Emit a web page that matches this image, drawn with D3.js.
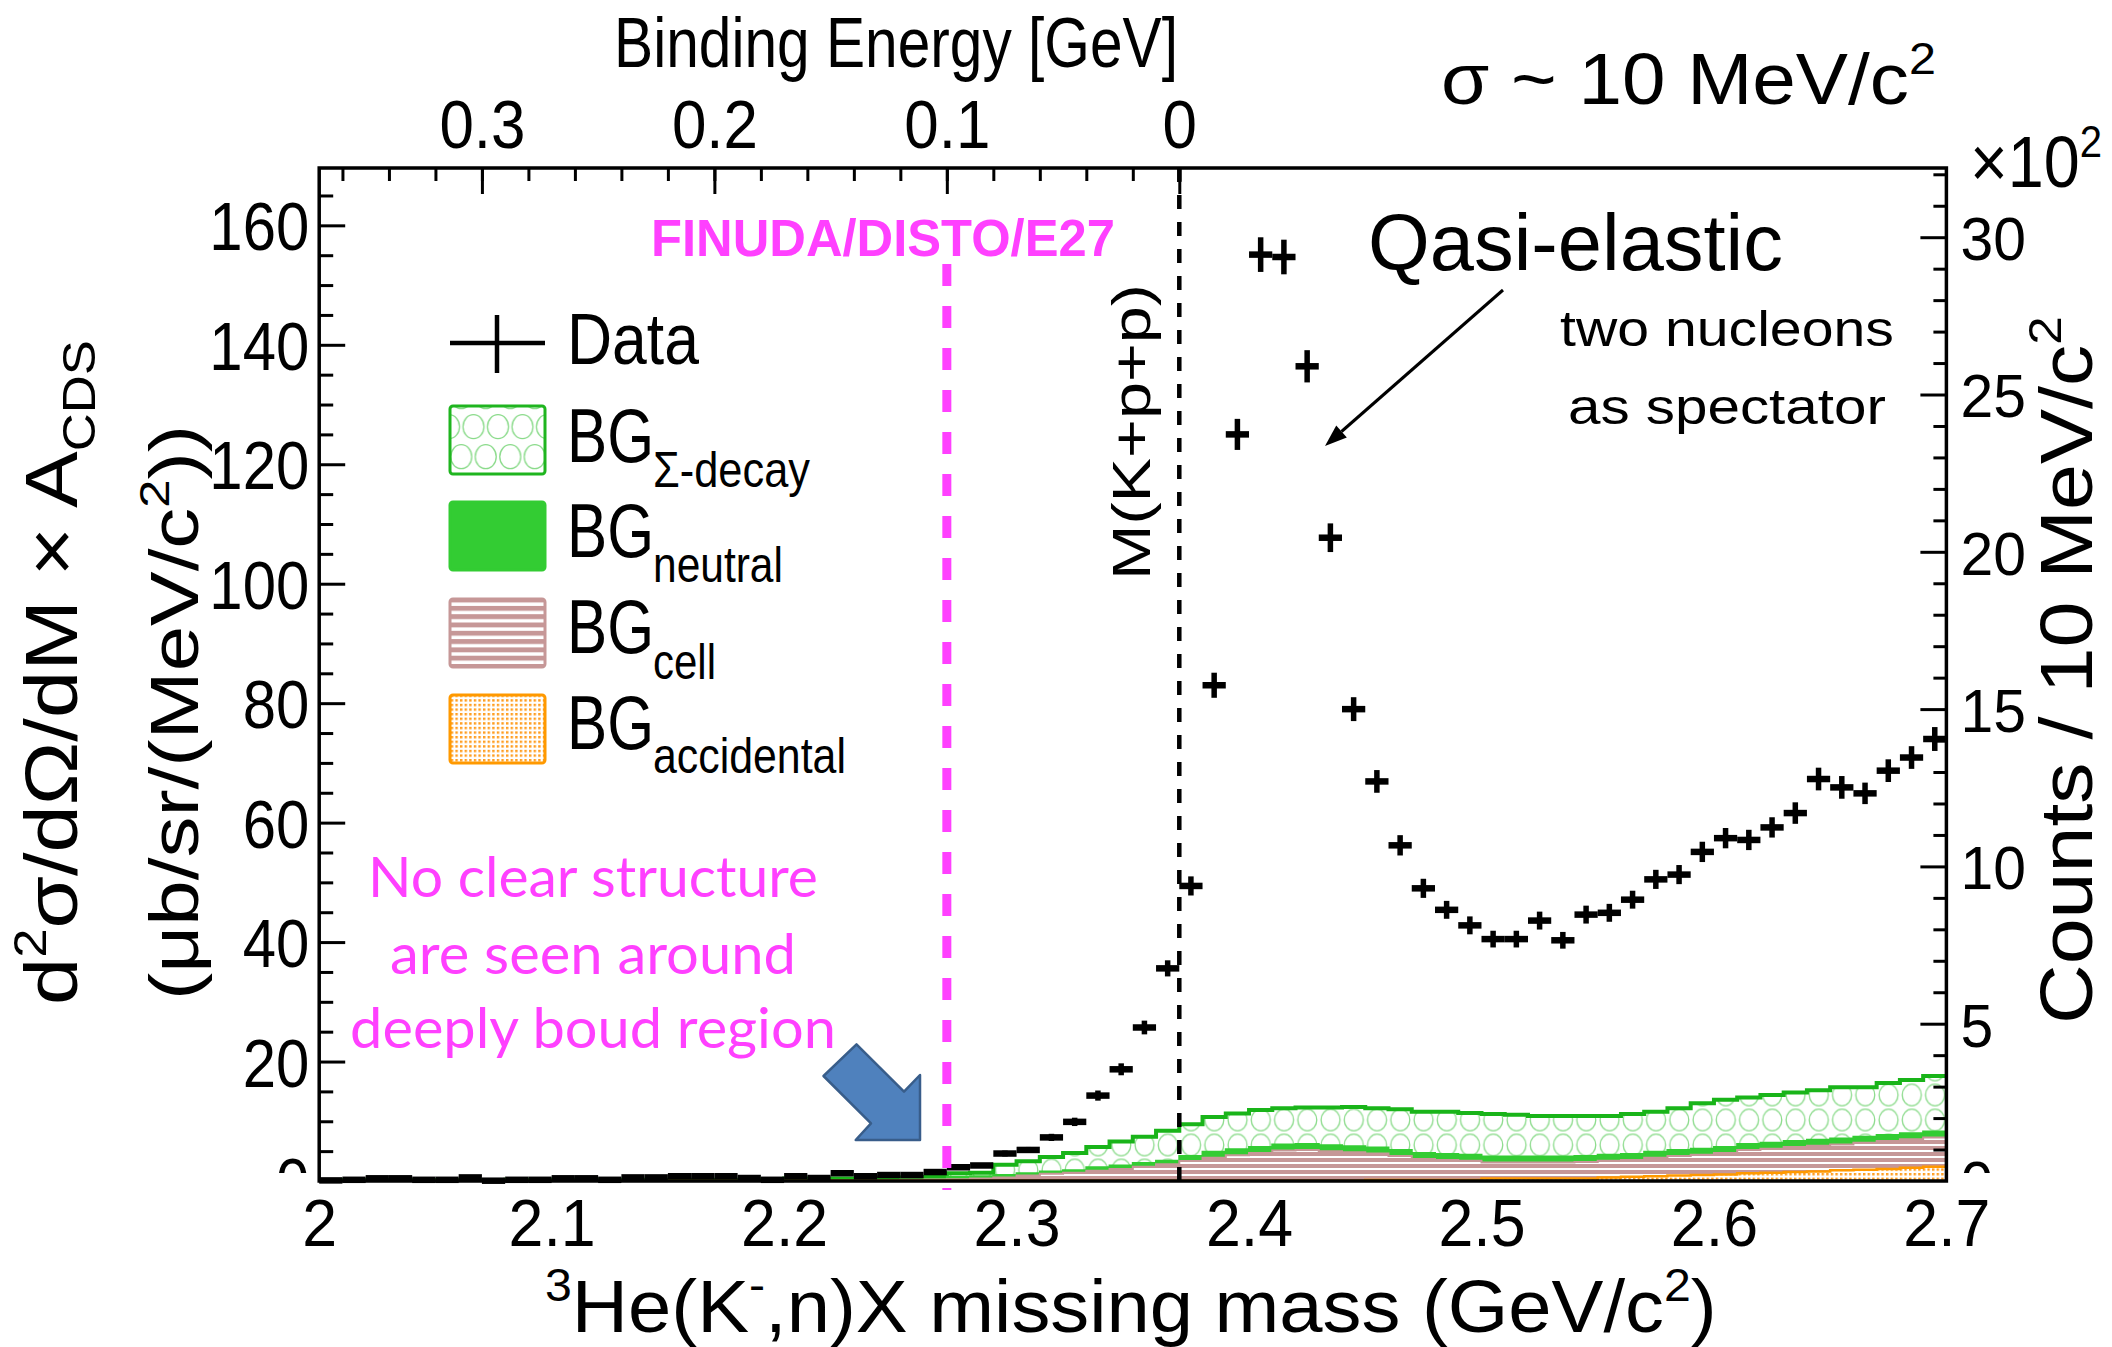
<!DOCTYPE html>
<html>
<head>
<meta charset="utf-8">
<script src="https://cdn.jsdelivr.net/npm/d3@7"></script>
<style>
  html, body { margin: 0; padding: 0; background: #fff; }
  svg { display: block; }
</style>
</head>
<body>
<svg id="chart" width="2112" height="1347"></svg>
<script>
// ---------------- data: 3He(K-,n)X missing-mass spectrum, 10 MeV/c^2 bins ----------------
const binCenters = [
  2.005, 2.015, 2.025, 2.035, 2.045, 2.055, 2.065, 2.075, 2.085, 2.095,
  2.105, 2.115, 2.125, 2.135, 2.145, 2.155, 2.165, 2.175, 2.185, 2.195,
  2.205, 2.215, 2.225, 2.235, 2.245, 2.255, 2.265, 2.275, 2.285, 2.295,
  2.305, 2.315, 2.325, 2.335, 2.345, 2.355, 2.365, 2.375, 2.385, 2.395,
  2.405, 2.415, 2.425, 2.435, 2.445, 2.455, 2.465, 2.475, 2.485, 2.495,
  2.505, 2.515, 2.525, 2.535, 2.545, 2.555, 2.565, 2.575, 2.585, 2.595,
  2.605, 2.615, 2.625, 2.635, 2.645, 2.655, 2.665, 2.675, 2.685, 2.695
];
const binWidth = 0.01;

// d2sigma/dOmega/dM x A_CDS  [ub/sr/(MeV/c^2)]
const dataValues = [
  0.1, 0.2, 0.45, 0.45, 0.2, 0.2, 0.6, 0.05, 0.2, 0.2,
  0.45, 0.45, 0.2, 0.6, 0.6, 0.8, 0.8, 0.8, 0.5, 0.2,
  0.8, 0.5, 1.3, 0.8, 1.0, 1.0, 1.5, 2.3, 2.6, 4.6,
  5.2, 7.3, 9.9, 14.3, 18.7, 25.7, 35.6, 49.4, 83.0, 125.0,
  155.1, 154.7, 136.4, 107.7, 79.0, 66.9, 56.2, 49.0, 45.4, 42.8,
  40.5, 40.5, 43.6, 40.3, 44.6, 44.9, 47.1, 50.5, 51.3, 55.1,
  57.4, 57.1, 59.2, 61.6, 67.3, 65.9, 64.9, 68.7, 70.9, 74.0
];
const dataErrors = [
  0.2, 0.2, 0.2, 0.2, 0.2, 0.2, 0.2, 0.2, 0.2, 0.2,
  0.2, 0.2, 0.2, 0.2, 0.2, 0.2, 0.2, 0.2, 0.2, 0.2,
  0.2, 0.2, 0.3, 0.25, 0.3, 0.3, 0.3, 0.35, 0.4, 0.5,
  0.5, 0.6, 0.7, 0.85, 1.0, 1.15, 1.35, 1.6, 2.1, 2.6,
  2.9, 2.9, 2.7, 2.4, 2.0, 1.9, 1.7, 1.6, 1.5, 1.5,
  1.4, 1.4, 1.5, 1.4, 1.5, 1.5, 1.5, 1.6, 1.6, 1.7,
  1.7, 1.7, 1.7, 1.8, 1.9, 1.9, 1.8, 1.9, 1.9, 2.0
];

// background components (stacked bottom -> top: accidental, cell, neutral, Sigma-decay)
const bgAccidental = [
  0.05, 0.05, 0.05, 0.05, 0.05, 0.05, 0.05, 0.05, 0.05, 0.05,
  0.05, 0.05, 0.05, 0.05, 0.05, 0.05, 0.05, 0.05, 0.05, 0.05,
  0.05, 0.05, 0.05, 0.05, 0.05, 0.05, 0.05, 0.05, 0.05, 0.05,
  0.05, 0.05, 0.05, 0.05, 0.05, 0.05, 0.05, 0.05, 0.05, 0.05,
  0.05, 0.05, 0.05, 0.05, 0.05, 0.15, 0.15, 0.15, 0.15, 0.15,
  0.4, 0.4, 0.4, 0.4, 0.4, 0.6, 0.7, 0.8, 0.9, 1.0,
  1.1, 1.3, 1.4, 1.5, 1.6, 1.8, 1.9, 2.0, 2.2, 2.4
];
const bgCell = [
  0.01, 0.01, 0.01, 0.01, 0.01, 0.01, 0.01, 0.01, 0.01, 0.01,
  0.01, 0.01, 0.01, 0.01, 0.01, 0.01, 0.01, 0.01, 0.01, 0.01,
  0.01, 0.05, 0.05, 0.05, 0.05, 0.15, 0.2, 0.25, 0.35, 0.55,
  0.85, 1.15, 1.35, 1.65, 1.95, 2.35, 2.75, 3.3, 3.85, 4.25,
  4.65, 5.05, 5.15, 4.95, 4.75, 4.45, 4.05, 3.55, 3.35, 3.25,
  2.7, 2.7, 2.7, 2.7, 2.8, 2.8, 2.8, 3.1, 3.3, 3.4,
  3.6, 3.9, 4.0, 4.2, 4.3, 4.3, 4.5, 4.7, 4.8, 4.9
];
const bgNeutral = [
  0.04, 0.04, 0.04, 0.04, 0.04, 0.04, 0.04, 0.04, 0.04, 0.04,
  0.04, 0.04, 0.04, 0.04, 0.04, 0.04, 0.04, 0.04, 0.04, 0.04,
  0.04, 0.1, 0.1, 0.1, 0.1, 0.1, 0.1, 0.4, 0.4, 0.4,
  0.4, 0.4, 0.4, 0.6, 0.6, 0.6, 0.6, 0.85, 1.0, 1.0,
  1.0, 1.0, 1.0, 1.0, 1.0, 1.0, 1.0, 1.0, 1.0, 1.0,
  1.0, 1.0, 1.0, 1.0, 1.0, 1.0, 1.0, 1.0, 1.0, 1.0,
  1.0, 1.0, 1.0, 1.0, 1.0, 1.0, 1.0, 1.0, 1.0, 1.0
];
const bgSigmaDecay = [
  0.05, 0.05, 0.05, 0.05, 0.05, 0.05, 0.05, 0.05, 0.1, 0.1,
  0.1, 0.1, 0.1, 0.1, 0.1, 0.1, 0.1, 0.1, 0.1, 0.2,
  0.3, 0.2, 0.2, 0.2, 0.4, 0.3, 0.3, 0.6, 0.6, 1.7,
  2.0, 2.4, 2.9, 3.4, 4.0, 4.4, 5.0, 5.3, 5.8, 6.0,
  6.2, 6.1, 6.1, 6.3, 6.6, 6.6, 6.8, 6.9, 7.1, 7.0,
  7.1, 7.0, 6.8, 6.8, 6.7, 6.5, 6.7, 6.7, 7.0, 7.6,
  7.9, 7.8, 8.0, 8.1, 8.3, 8.6, 8.3, 8.7, 8.9, 9.3
];

// axis tick labels
const massTicks = [2.0, 2.1, 2.2, 2.3, 2.4, 2.5, 2.6, 2.7];
const crossSectionTicks = [0, 20, 40, 60, 80, 100, 120, 140, 160];
const countTicks = [0, 5, 10, 15, 20, 25, 30];
const bindingTicks = [0.3, 0.2, 0.1, 0];

const thresholdMass = 2.37;   // M(K+p+p)
const finudaMass = 2.27;      // FINUDA/DISTO/E27 binding region

// ---------------- layout ----------------
const FONT = "'Liberation Sans', Arial, Helvetica, sans-serif";
const HAND = "Lato, 'Open Sans', sans-serif";
const MAGENTA = "#ff40ff";
const plot = { left: 319.2, right: 1946.4, top: 168, bottom: 1181 };

const svg = d3.select("#chart");
svg.append("rect").attr("width", 2112).attr("height", 1347).attr("fill", "#fff");

const x = d3.scaleLinear().domain([2.0, 2.7]).range([plot.left, plot.right]);
const y = d3.scaleLinear().domain([0, 169.6]).range([plot.bottom, plot.top]);
const yCounts = d3.scaleLinear().domain([0, 32.2]).range([plot.bottom, plot.top]);
const xBinding = d3.scaleLinear()
  .domain([thresholdMass - 2.0, thresholdMass - 2.7])
  .range([plot.left, plot.right]);

// ---------------- fill patterns ----------------
const defs = svg.append("defs");

const pSig = defs.append("pattern").attr("id", "pSig").attr("patternUnits", "userSpaceOnUse")
  .attr("x", plot.left).attr("y", 7.5).attr("width", 23.25).attr("height", 25);
pSig.append("rect").attr("width", 23.25).attr("height", 25).attr("fill", "#fff");
pSig.append("ellipse").attr("cx", 11.6).attr("cy", 12.5).attr("rx", 9.5).attr("ry", 10.8)
  .attr("fill", "none").attr("stroke", "#8adb8a").attr("stroke-width", 1.3);

const pSigLeg = defs.append("pattern").attr("id", "pSigLeg").attr("patternUnits", "userSpaceOnUse")
  .attr("x", 449).attr("y", 406).attr("width", 24.5).attr("height", 60);
pSigLeg.append("rect").attr("width", 24.5).attr("height", 60).attr("fill", "#fff");
[[0, 20.7], [24.5, 20.7], [12.25, 50.7], [12.25, -9.3]].forEach(([cx, cy]) => {
  pSigLeg.append("ellipse").attr("cx", cx).attr("cy", cy).attr("rx", 10.5).attr("ry", 12)
    .attr("fill", "none").attr("stroke", "#8adb8a").attr("stroke-width", 1.3);
});

function stripes(id, period, white) {
  const p = defs.append("pattern").attr("id", id).attr("patternUnits", "userSpaceOnUse")
    .attr("width", 10).attr("height", period);
  p.append("rect").attr("width", 10).attr("height", period).attr("fill", "#c69797");
  p.append("rect").attr("y", period - white).attr("width", 10).attr("height", white).attr("fill", "#fff");
}
stripes("pCell", 6, 2);
stripes("pCellLeg", 8.3, 3.4);

const pAcc = defs.append("pattern").attr("id", "pAcc").attr("patternUnits", "userSpaceOnUse")
  .attr("width", 4.6).attr("height", 4.6);
pAcc.append("rect").attr("width", 4.6).attr("height", 4.6).attr("fill", "#fff");
pAcc.append("rect").attr("width", 2.4).attr("height", 2.4).attr("fill", "#ff9d1f");

defs.append("clipPath").attr("id", "labelClip").attr("clipPathUnits", "userSpaceOnUse")
  .append("rect").attr("x", -3000).attr("y", -10).attr("width", 6000).attr("height", 1183);

// ---------------- text helper ----------------
function label(parent, o) {
  const g = parent.append("g")
    .attr("transform", `translate(${o.x},${o.y})` + (o.rotate ? ` rotate(${o.rotate})` : ""));
  const t = g.append("text")
    .attr("text-anchor", o.anchor || "start")
    .attr("font-family", o.family || FONT)
    .attr("font-size", o.size)
    .attr("font-weight", o.weight || "normal")
    .attr("fill", o.fill || "#000");
  let shift = 0;
  (o.parts || [[o.text, ""]]).forEach(([s, kind]) => {
    const target = kind === "sup" ? -0.42 * o.size : kind === "sub" ? 0.25 * o.size : 0;
    t.append("tspan").text(s)
      .attr("dy", target - shift)
      .attr("font-size", kind ? o.size * 0.62 : o.size);
    shift = target;
  });
  const sy = o.squash || 1;
  const sx = o.width ? o.width / t.node().getComputedTextLength() : (o.sx || 1);
  t.attr("transform", `scale(${sx},${sy})`);
  return t;
}

function draw() {
  // ---------------- stacked background histograms ----------------
  const rows = binCenters.map((c, i) => ({
    c, acc: bgAccidental[i], cell: bgCell[i], neu: bgNeutral[i], sig: bgSigmaDecay[i]
  }));
  const layers = d3.stack().keys(["acc", "cell", "neu", "sig"])(rows);

  function stepPoints(layer) {
    const pts = layer.map((d, i) => ({ x: x(binCenters[i] - binWidth / 2), top: d[1] }));
    const last = layer.length - 1;
    pts.push({ x: x(binCenters[last] + binWidth / 2), top: layer[last][1] });
    return pts;
  }
  const areaGen = d3.area().x(d => d.x).y0(y(0)).y1(d => y(d.top)).curve(d3.curveStepAfter);
  const lineGen = d3.line().x(d => d.x).y(d => y(d.top)).curve(d3.curveStepAfter);

  const styles = {
    sig: { fill: "url(#pSig)", stroke: "#19b419", width: 4 },
    neu: { fill: "#33cc33", stroke: "#33cc33", width: 2 },
    cell: { fill: "url(#pCell)", stroke: "#c69797", width: 2 },
    acc: { fill: "url(#pAcc)", stroke: "#ff9900", width: 2.5 }
  };
  const bgG = svg.append("g");
  [...layers].reverse().forEach(layer => {
    const st = styles[layer.key];
    const pts = stepPoints(layer);
    bgG.append("path").attr("d", areaGen(pts)).attr("fill", st.fill);
    bgG.append("path").attr("d", lineGen(pts)).attr("fill", "none")
      .attr("stroke", st.stroke).attr("stroke-width", st.width);
  });

  // ---------------- threshold line M(K+p+p) ----------------
  svg.append("line")
    .attr("x1", x(thresholdMass)).attr("x2", x(thresholdMass))
    .attr("y1", plot.top).attr("y2", plot.bottom)
    .attr("stroke", "#000").attr("stroke-width", 4.5).attr("stroke-dasharray", "14,13");

  // ---------------- data points ----------------
  const dataG = svg.append("g");
  binCenters.forEach((c, i) => {
    const v = dataValues[i], e = dataErrors[i];
    dataG.append("line")
      .attr("x1", x(c - binWidth / 2)).attr("x2", x(c + binWidth / 2))
      .attr("y1", y(v)).attr("y2", y(v))
      .attr("stroke", "#000").attr("stroke-width", 6.5);
    dataG.append("line")
      .attr("x1", x(c)).attr("x2", x(c))
      .attr("y1", y(Math.max(0, v - e))).attr("y2", y(v + e))
      .attr("stroke", "#000").attr("stroke-width", 5.5);
  });

  // ---------------- FINUDA / DISTO / E27 line ----------------
  svg.append("line")
    .attr("x1", x(finudaMass)).attr("x2", x(finudaMass))
    .attr("y1", 264).attr("y2", 1190)
    .attr("stroke", MAGENTA).attr("stroke-width", 9).attr("stroke-dasharray", "22,20");

  // ---------------- axes ----------------
  function styleAxis(g, fontSize, sx) {
    g.select(".domain").remove();
    g.selectAll(".tick line").attr("stroke", "#000").attr("stroke-width", 3);
    g.selectAll(".tick text")
      .attr("fill", "#000").attr("font-family", FONT).attr("font-size", fontSize)
      .each(function () {
        const t = d3.select(this);
        t.attr("x", (+t.attr("x") || 0) / sx).attr("transform", `scale(${sx},1)`);
      });
  }

  // left: cross section
  const gLeft = svg.append("g").attr("transform", `translate(${plot.left},0)`)
    .attr("clip-path", "url(#labelClip)")
    .call(d3.axisLeft(y).tickValues(crossSectionTicks).tickSize(-26).tickPadding(10));
  styleAxis(gLeft, 68, 0.88);
  gLeft.selectAll(".tick text").attr("dy", "0.36em");
  const gLeftMinor = svg.append("g").attr("transform", `translate(${plot.left},0)`)
    .call(d3.axisLeft(y).tickValues(d3.range(0, 169, 5).filter(v => v % 20 !== 0)).tickSize(-14).tickFormat(""));
  styleAxis(gLeftMinor, 10, 1);

  // right: counts
  const gRight = svg.append("g").attr("transform", `translate(${plot.right},0)`)
    .attr("clip-path", "url(#labelClip)")
    .call(d3.axisRight(yCounts).tickValues(countTicks).tickSize(-26).tickPadding(14));
  styleAxis(gRight, 62, 0.95);
  gRight.selectAll(".tick text").attr("dy", "0.36em");
  const gRightMinor = svg.append("g").attr("transform", `translate(${plot.right},0)`)
    .call(d3.axisRight(yCounts).tickValues(d3.range(0, 33, 1).filter(v => v % 5 !== 0)).tickSize(-13).tickFormat(""));
  styleAxis(gRightMinor, 10, 1);

  // top: binding energy
  const gTop = svg.append("g").attr("transform", `translate(0,${plot.top})`)
    .call(d3.axisTop(xBinding).tickValues(bindingTicks).tickSize(-26).tickPadding(20).tickFormat(d3.format("")));
  styleAxis(gTop, 68, 0.91);
  const gTopMinor = svg.append("g").attr("transform", `translate(0,${plot.top})`)
    .call(d3.axisTop(xBinding).tickValues(d3.range(0, 0.37, 0.02)).tickSize(-13).tickFormat(""));
  styleAxis(gTopMinor, 10, 1);

  // bottom: missing mass
  const gBottom = svg.append("g").attr("transform", `translate(0,${plot.bottom})`)
    .call(d3.axisBottom(x).tickValues(massTicks).tickSize(0).tickPadding(18).tickFormat(d3.format("")));
  styleAxis(gBottom, 66, 0.95);

  // frame
  svg.append("rect")
    .attr("x", plot.left).attr("y", plot.top)
    .attr("width", plot.right - plot.left).attr("height", plot.bottom - plot.top)
    .attr("fill", "none").attr("stroke", "#000").attr("stroke-width", 3.5);

  // ---------------- axis titles ----------------
  label(svg, { x: 896, y: 67, anchor: "middle", size: 71, width: 564, text: "Binding Energy [GeV]" });
  label(svg, { x: 545, y: 1332, size: 75, width: 1172,
    parts: [["3", "sup"], ["He(K", ""], ["-", "sup"], [",n)X missing mass (GeV/c", ""], ["2", "sup"], [")", ""]] });
  label(svg, { x: 77, y: 1005, rotate: -90, size: 85, width: 665, squash: 0.87,
    parts: [["d", ""], ["2", "sup"], ["σ/dΩ/dM × A", ""], ["CDS", "sub"]] });
  label(svg, { x: 198, y: 1000, rotate: -90, size: 80, width: 575, squash: 0.85,
    parts: [["(μb/sr/(MeV/c", ""], ["2", "sup"], ["))", ""]] });
  label(svg, { x: 2092, y: 1024, rotate: -90, size: 85, width: 708, squash: 0.87,
    parts: [["Counts / 10 MeV/c", ""], ["2", "sup"]] });
  label(svg, { x: 1970, y: 187, size: 72, width: 132, parts: [["×10", ""], ["2", "sup"]] });
  label(svg, { x: 1441, y: 104, size: 72, width: 495, parts: [["σ ~ 10 MeV/c", ""], ["2", "sup"]] });

  // ---------------- annotations ----------------
  label(svg, { x: 651, y: 256, size: 52, width: 464, weight: "bold", fill: MAGENTA, text: "FINUDA/DISTO/E27" });
  label(svg, { x: 1150, y: 580, rotate: -90, size: 62, width: 296, squash: 0.87, text: "M(K+p+p)" });
  label(svg, { x: 1368, y: 270, size: 80, width: 415, family: FONT, text: "Qasi-elastic" });
  label(svg, { x: 1560, y: 346, size: 50, width: 334, family: FONT, text: "two nucleons" });
  label(svg, { x: 1568, y: 424, size: 50, width: 318, family: FONT, text: "as spectator" });
  [["No clear structure", 897, 450], ["are seen around", 974, 406], ["deeply boud region", 1048, 486]]
    .forEach(([s, by, w]) => label(svg, { x: 593, y: by, anchor: "middle", size: 56, width: w,
      family: HAND, fill: MAGENTA, text: s }));

  // arrow toward the quasi-elastic peak
  const a0 = [1503, 290], a1 = [1325, 446];
  const len = Math.hypot(a1[0] - a0[0], a1[1] - a0[1]);
  const u = [(a1[0] - a0[0]) / len, (a1[1] - a0[1]) / len];
  const nrm = [-u[1], u[0]];
  const base = [a1[0] - 22 * u[0], a1[1] - 22 * u[1]];
  svg.append("line").attr("x1", a0[0]).attr("y1", a0[1]).attr("x2", base[0]).attr("y2", base[1])
    .attr("stroke", "#000").attr("stroke-width", 3);
  svg.append("polygon").attr("fill", "#000").attr("points", [
    a1, [base[0] + 8 * nrm[0], base[1] + 8 * nrm[1]], [base[0] - 8 * nrm[0], base[1] - 8 * nrm[1]]
  ].map(p => p.join(",")).join(" "));

  // block arrow pointing at the deeply bound region
  svg.append("polygon")
    .attr("points", [[823.5, 1076], [856.5, 1044.4], [904, 1091.7], [920, 1075], [920, 1140],
      [855.7, 1140], [871, 1123.3]].map(p => p.join(",")).join(" "))
    .attr("fill", "#4f81bd").attr("stroke", "#385d8a").attr("stroke-width", 2.5)
    .attr("stroke-linejoin", "round");

  // ---------------- legend ----------------
  const lg = svg.append("g");
  lg.append("line").attr("x1", 450).attr("x2", 545).attr("y1", 343).attr("y2", 343)
    .attr("stroke", "#000").attr("stroke-width", 4.5);
  lg.append("line").attr("x1", 497).attr("x2", 497).attr("y1", 315).attr("y2", 373)
    .attr("stroke", "#000").attr("stroke-width", 4.5);
  label(lg, { x: 567, y: 364, size: 72, width: 132, text: "Data" });

  const legendRows = [
    { top: 406, fill: "url(#pSigLeg)", stroke: "#1fb51f", sub: "Σ-decay", subW: 157, base: 461.7, subBase: 486.7 },
    { top: 502, fill: "#33cc33", stroke: "#33cc33", sub: "neutral", subW: 130, base: 556.7, subBase: 581.7 },
    { top: 599, fill: "url(#pCellLeg)", stroke: "#c69797", sub: "cell", subW: 63, base: 653.3, subBase: 679.3 },
    { top: 695, fill: "url(#pAcc)", stroke: "#ff9900", sub: "accidental", subW: 193, base: 749.3, subBase: 773.3 }
  ];
  legendRows.forEach(r => {
    lg.append("rect").attr("x", 450).attr("y", r.top).attr("width", 95).attr("height", 68)
      .attr("rx", 3).attr("fill", r.fill).attr("stroke", r.stroke).attr("stroke-width", 3);
    label(lg, { x: 567, y: r.base, size: 76, width: 87, text: "BG" });
    label(lg, { x: 653, y: r.subBase, size: 50, width: r.subW, text: r.sub });
  });
}

(document.fonts && document.fonts.ready ? document.fonts.ready : Promise.resolve()).then(draw);
</script>
</body>
</html>
